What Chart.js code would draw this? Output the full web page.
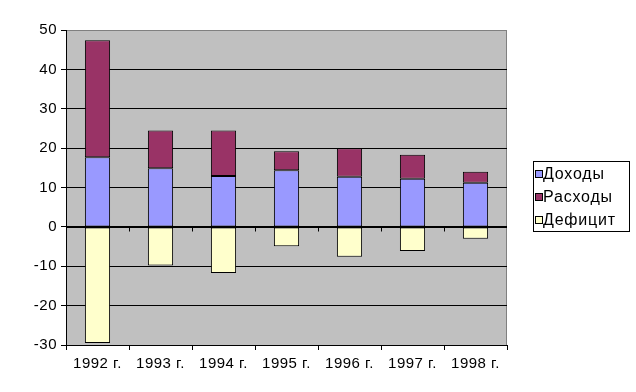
<!DOCTYPE html>
<html>
<head>
<meta charset="utf-8">
<script src="https://cdn.jsdelivr.net/npm/chart.js@4.4.0/dist/chart.umd.min.js"></script>
<style>
html,body{margin:0;padding:0;background:#fff;}
#wrap{width:636px;height:392px;}
</style>
</head>
<body>
<div id="wrap"><canvas id="c" width="636" height="392"></canvas></div>
<script>
const categories = ['1992 г.', '1993 г.', '1994 г.', '1995 г.', '1996 г.', '1997 г.', '1998 г.'];
const dohody   = [17.7, 14.9, 12.9, 14.4, 12.7, 12.2, 11.2];
const rashody  = [29.7, 9.6, 11.6, 4.8, 7.3, 6.1, 2.8];
const deficit  = [-29.5, -9.8, -11.7, -4.9, -7.6, -6.1, -3.0];
const yTicks   = [-30, -20, -10, 0, 10, 20, 30, 40, 50];
const seriesNames = ['Доходы', 'Расходы', 'Дефицит'];
const seriesColors = ['#9999FF', '#993366', '#FFFFCC'];

const FONT = 'Arial, "Liberation Sans", sans-serif';

const plotPlugin = {
  id: 'plotDecor',
  beforeDraw(chart) {
    const {ctx, chartArea: a} = chart;
    ctx.letterSpacing = '0.5px';
    ctx.save();
    ctx.fillStyle = '#C0C0C0';
    ctx.fillRect(a.left, a.top, a.right - a.left, a.bottom - a.top);
    ctx.strokeStyle = '#808080';
    ctx.lineWidth = 1;
    ctx.beginPath();
    ctx.moveTo(a.left, a.top + 0.5);
    ctx.lineTo(a.right - 0.5, a.top + 0.5);
    ctx.lineTo(a.right - 0.5, a.bottom);
    ctx.stroke();
    ctx.restore();
  },
  afterDatasetsDraw(chart) {
    const {ctx} = chart;
    const xs = chart.scales.x, ys = chart.scales.y;
    const y0 = Math.round(ys.getPixelForValue(0)) + 0.5;
    ctx.save();
    ctx.strokeStyle = '#000';
    ctx.lineWidth = 1;
    ctx.beginPath();
    ctx.moveTo(chart.chartArea.left, y0);
    ctx.lineTo(chart.chartArea.right, y0);
    for (let i = 1; i < categories.length; i++) {
      const xp = Math.round((xs.getPixelForValue(i - 1) + xs.getPixelForValue(i)) / 2) + 0.5;
      ctx.moveTo(xp, y0);
      ctx.lineTo(xp, y0 + 4);
    }
    ctx.stroke();
    ctx.restore();
  },
  afterDraw(chart) {
    const {ctx} = chart;
    ctx.save();
    const bx = 533.5, by = 161.5, bw = 96, bh = 70;
    ctx.fillStyle = '#fff';
    ctx.fillRect(bx, by, bw, bh);
    ctx.strokeStyle = '#000';
    ctx.lineWidth = 1;
    ctx.strokeRect(bx, by, bw, bh);
    ctx.font = '16px ' + FONT;
    ctx.letterSpacing = '0.8px';
    ctx.textBaseline = 'middle';
    ctx.textAlign = 'left';
    chart.data.datasets.forEach((ds, i) => {
      const cy = 174 + i * 23;
      ctx.fillStyle = ds.backgroundColor;
      ctx.fillRect(535.5, cy - 3.5, 7, 7);
      ctx.strokeStyle = '#000';
      ctx.strokeRect(535.5, cy - 3.5, 7, 7);
      ctx.fillStyle = '#000';
      ctx.fillText(ds.label, 543, cy + 0.5);
    });
    ctx.restore();
  }
};

new Chart(document.getElementById('c'), {
  type: 'bar',
  data: {
    labels: categories,
    datasets: [
      {label: seriesNames[0], data: dohody, backgroundColor: seriesColors[0], borderColor: '#000', borderWidth: 1, borderSkipped: false},
      {label: seriesNames[1], data: rashody, backgroundColor: seriesColors[1], borderColor: '#000', borderWidth: 1, borderSkipped: false},
      {label: seriesNames[2], data: deficit, backgroundColor: seriesColors[2], borderColor: '#000', borderWidth: 1, borderSkipped: false}
    ]
  },
  options: {
    responsive: false,
    animation: false,
    devicePixelRatio: 1,
    layout: {padding: {left: 0, right: 129, top: 30, bottom: 0}},
    datasets: {bar: {categoryPercentage: 1.0, barPercentage: 0.4}},
    plugins: {legend: {display: false}, tooltip: {enabled: false}, title: {display: false}},
    scales: {
      x: {
        stacked: true,
        afterFit(s) { s.height = 47; },
        grid: {offset: true, drawOnChartArea: false, drawTicks: true, tickLength: 5, color: '#000'},
        border: {display: true, color: '#000', width: 1},
        ticks: {color: '#000', font: {family: FONT, size: 15}, padding: 5, maxRotation: 0, autoSkip: false}
      },
      y: {
        stacked: true,
        min: -30, max: 50,
        afterFit(s) { s.width = 66; },
        afterBuildTicks(s) { s.ticks = yTicks.map(v => ({value: v})); },
        grid: {
          color: ctx => (ctx.tick && ctx.tick.value === 50) ? '#808080' : '#000',
          tickColor: '#000',
          tickLength: 5, drawTicks: true, lineWidth: 1
        },
        border: {display: true, color: '#000', width: 1},
        ticks: {color: '#000', font: {family: FONT, size: 15}, padding: 4}
      }
    }
  },
  plugins: [plotPlugin]
});
</script>
</body>
</html>
